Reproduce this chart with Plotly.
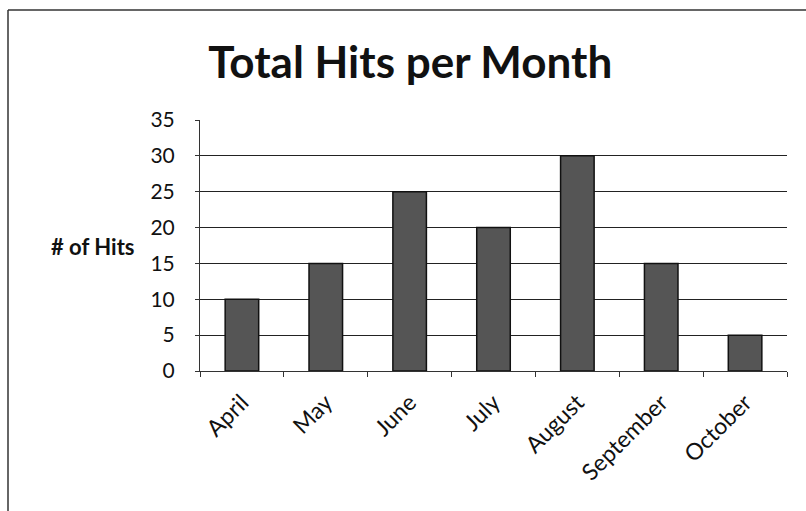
import plotly.graph_objects as go

months = ["April", "May", "June", "July", "August", "September", "October"]
hits = [10, 15, 25, 20, 30, 15, 5]
y_ticks = [0, 5, 10, 15, 20, 25, 30, 35]

FONT = "Lato, 'Open Sans', sans-serif"

fig = go.Figure()
fig.add_trace(go.Bar(
    x=months, y=hits,
    marker=dict(color="#555555", line=dict(color="#111111", width=1.5)),
))

fig.update_layout(
    width=806, height=511,
    margin=dict(l=200, r=19, t=120, b=140),
    paper_bgcolor="white", plot_bgcolor="white",
    bargap=0.6,
    showlegend=False,
    font=dict(family=FONT, color="#111111", size=20),
    title=dict(text="<b>Total Hits per Month</b>", x=0.509, xanchor="center",
               y=0.878, yanchor="middle", font=dict(size=44, family=FONT, color="#111111")),
    xaxis=dict(
        tickangle=-45, tickson="boundaries", ticks="outside", ticklen=5,
        tickcolor="#333", showline=True, linecolor="#333", linewidth=1,
        showgrid=False, tickfont=dict(size=23), ticklabelstandoff=8,
    ),
    yaxis=dict(
        range=[0, 35], tickvals=y_ticks, ticks="outside", ticklen=4,
        tickcolor="#333", showline=True, linecolor="#333", linewidth=1,
        showgrid=True, gridcolor="#222", gridwidth=1, zeroline=False,
        tickfont=dict(size=21), ticklabelstandoff=16,
    ),
)

fig.add_annotation(text="<b># of Hits</b>", xref="paper", yref="y",
                   x=(137 - 200) / 587, y=17.3, xanchor="right", yanchor="middle",
                   showarrow=False, font=dict(size=22, family=FONT, color="#111111"))

# scanned-page border lines (left and top)
fig.add_shape(type="line", xref="paper", yref="paper",
              x0=(8 - 200) / 587, x1=(8 - 200) / 587, y0=(371 - 10) / 251, y1=(371 - 520) / 251,
              line=dict(color="#333", width=1.5))
fig.add_shape(type="line", xref="paper", yref="paper",
              x0=(8 - 200) / 587, x1=(810 - 200) / 587, y0=(371 - 10) / 251, y1=(371 - 10) / 251,
              line=dict(color="#333", width=1.5))

fig.write_html("out.html")
